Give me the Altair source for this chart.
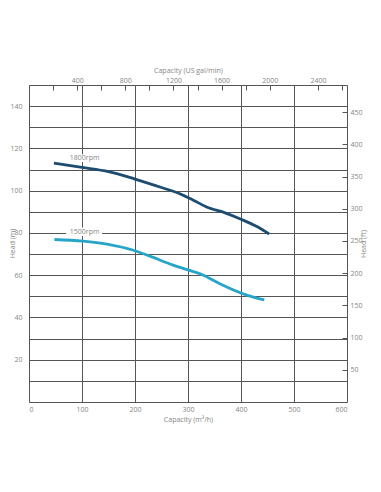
import altair as alt
import pandas as pd

# Data
q_1800 = [47, 100, 150, 200, 250, 285, 310, 335, 370, 400, 430, 453]
h_1800 = [113, 111, 109, 105.5, 101.5, 98.5, 95.5, 92.3, 89.5, 86.5, 83, 79.5]
q_1500 = [48, 102, 147, 197, 228, 272, 300, 329, 360, 411, 444]
h_1500 = [76.9, 76.1, 74.7, 71.8, 69, 64.8, 62.5, 60, 56, 50.6, 48.3]

label_text = ["1800rpm", "1500rpm"]
label_q = [105, 105]
label_h = [115.4, 80.6]
label_box_q1 = [70, 70]
label_box_q2 = [138, 138]
label_box_h1 = [113.6, 78.6]
label_box_h2 = [117.2, 82.6]

M3H_TO_GPM = 4.40287
M_TO_FT = 3.28084
Q_MAX = 600
H_MAX = 150

gpm_ticks = [200, 400, 600, 800, 1000, 1200, 1400, 1600, 1800, 2000, 2200, 2400, 2600]
ft_ticks = [50, 100, 150, 200, 250, 300, 350, 400, 450]

curves = pd.DataFrame(
    {"Q": q_1800 + q_1500,
     "H": h_1800 + h_1500,
     "speed": ["1800rpm"] * len(q_1800) + ["1500rpm"] * len(q_1500),
     "order": list(range(len(q_1800))) + list(range(len(q_1500)))}
)
labels = pd.DataFrame({"Q": label_q, "H": label_h, "text": label_text,
                       "Qa": label_box_q1, "Qb": label_box_q2,
                       "Ha": label_box_h1, "Hb": label_box_h2})
dummy = pd.DataFrame({"gpm": [0, Q_MAX * M3H_TO_GPM], "ft": [0, H_MAX * M_TO_FT]})

FONT = "Open Sans"
TXT = "#858585"
GRID = "#555555"

x_scale = alt.Scale(domain=[0, Q_MAX], nice=False)
y_scale = alt.Scale(domain=[0, H_MAX], nice=False)

x_axis = alt.Axis(values=[0, 100, 200, 300, 400, 500, 600], grid=True, gridColor=GRID,
                  gridOpacity=1, gridWidth=1, tickSize=0, domain=False,
                  labelFontSize=7, labelColor=TXT, labelFont=FONT, labelPadding=3,
                  title="Capacity (m³/h)", titleFontSize=7, titleColor=TXT, titleFont=FONT,
                  titleFontWeight="normal", titlePadding=3)
y_axis = alt.Axis(values=list(range(0, 151, 10)), grid=True, gridColor=GRID, gridOpacity=1,
                  gridWidth=1, tickSize=0, domain=False,
                  labelExpr="(datum.value % 20 == 0 && datum.value > 0 && datum.value < 150) ? datum.label : ''",
                  labelFontSize=7, labelColor=TXT, labelFont=FONT, labelPadding=7,
                  title="Head (m)", titleFontSize=7, titleColor=TXT, titleFont=FONT,
                  titleFontWeight="normal", titleX=-14, titleY=158)

X = alt.X("Q:Q", scale=x_scale, axis=x_axis)
Y = alt.Y("H:Q", scale=y_scale, axis=y_axis)

lines = alt.Chart(curves).mark_line(strokeWidth=2.8, interpolate="monotone").encode(
    x=X, y=Y, order="order:Q",
    color=alt.Color("speed:N", scale=alt.Scale(domain=["1800rpm", "1500rpm"],
                                               range=["#1c4d70", "#27a5c8"]), legend=None),
)
boxes = alt.Chart(labels).mark_rect(color="white").encode(
    x=alt.X("Qa:Q", scale=x_scale, axis=x_axis), x2="Qb:Q",
    y=alt.Y("Ha:Q", scale=y_scale, axis=y_axis), y2="Hb:Q",
)
texts = alt.Chart(labels).mark_text(fontSize=7, color=TXT, font=FONT).encode(
    x=X, y=Y, text="text:N"
)
main = alt.layer(boxes, lines, texts)

sec = alt.Chart(dummy).mark_point(opacity=0).encode(
    x=alt.X("gpm:Q", scale=alt.Scale(domain=[0, Q_MAX * M3H_TO_GPM], nice=False),
            axis=alt.Axis(orient="top", values=gpm_ticks, grid=False, offset=-5, tickSize=5,
                          tickColor=GRID, domain=False,
                          labelExpr="datum.value % 400 == 0 ? datum.label : ''",
                          labelFontSize=7, labelColor=TXT, labelFont=FONT, labelPadding=2,
                          format="d",
                          title="Capacity (US gal/min)", titleFontSize=7, titleColor=TXT,
                          titleFont=FONT, titleFontWeight="normal", titlePadding=3)),
    y=alt.Y("ft:Q", scale=alt.Scale(domain=[0, H_MAX * M_TO_FT], nice=False),
            axis=alt.Axis(orient="right", values=ft_ticks, grid=False, offset=-5, tickSize=5,
                          tickColor=GRID, domain=False,
                          labelFontSize=7, labelColor=TXT, labelFont=FONT, labelPadding=3,
                          title="Head (ft)", titleFontSize=7, titleColor=TXT, titleFont=FONT,
                          titleFontWeight="normal", titleAngle=270, titlePadding=4)),
)

chart = alt.layer(main, sec).resolve_scale(x="independent", y="independent").properties(
    width=318, height=317,
    autosize=alt.AutoSizeParams(type="none"),
    padding={"left": 21, "top": 77, "right": 25, "bottom": 25},
).configure_view(stroke=GRID, strokeWidth=1).configure(background="white")

chart.save("out.html", embed_options={"renderer": "svg", "actions": False})
